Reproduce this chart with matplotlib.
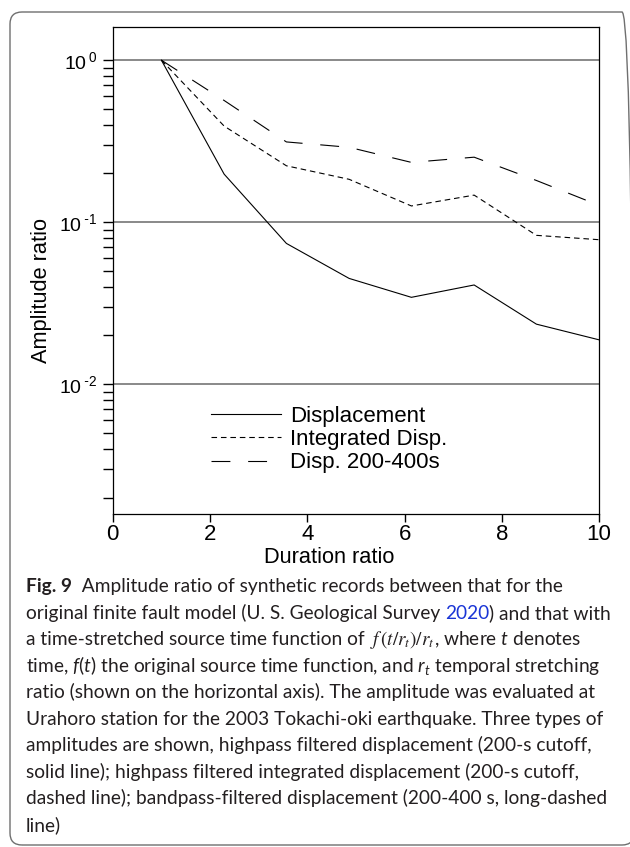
import numpy as np
import matplotlib
matplotlib.use("Agg")
import matplotlib.pyplot as plt
from matplotlib.patches import FancyBboxPatch
from matplotlib.transforms import IdentityTransform
from matplotlib.ticker import FixedLocator, FixedFormatter, LogLocator, NullFormatter

# Values
duration = [1, 2.29, 3.57, 4.86, 6.14, 7.43, 8.71, 10]
displacement = [1, 0.198, 0.074, 0.045, 0.0344, 0.041, 0.0235, 0.0188]
integrated = [1, 0.392, 0.223, 0.184, 0.126, 0.147, 0.083, 0.078]
band_200_400 = [1, 0.564, 0.313, 0.29, 0.234, 0.252, 0.181, 0.127]
series_labels = ["Displacement", "Integrated Disp.", "Disp. 200-400s"]
xticks = [0, 2, 4, 6, 8, 10]
yticks = [1e-2, 1e-1, 1]
ytick_labels = [r"$\mathdefault{10^{\;\text{-}2}}$", r"$\mathdefault{10^{\;\text{-}1}}$",
                r"$\mathdefault{10^{\;0}}$"]

plt.rcParams["font.family"] = ["Liberation Sans", "DejaVu Sans"]
plt.rcParams["mathtext.fontset"] = "custom"
plt.rcParams["mathtext.rm"] = "Lato"
plt.rcParams["mathtext.it"] = "Lato:italic"
plt.rcParams["mathtext.bf"] = "Lato:bold"

fig = plt.figure(figsize=(6.3, 8.47), dpi=100)
ax = fig.add_axes([0.179, 0.393, 0.772, 0.575])

ax.plot(duration, displacement, color="black", lw=0.8, label=series_labels[0])
ax.plot(duration, integrated, color="black", lw=0.8, dashes=(5, 3.5), label=series_labels[1])
ax.plot(duration, band_200_400, color="black", lw=0.8, dashes=(17, 16), label=series_labels[2])

ax.set_yscale("log")
ax.set_xlim(0, 10)
ax.set_ylim(0.00158, 1.6)
ax.xaxis.set_major_locator(FixedLocator(xticks))
ax.yaxis.set_major_locator(FixedLocator(yticks))
ax.yaxis.set_major_formatter(FixedFormatter(ytick_labels))
ax.yaxis.set_minor_locator(LogLocator(base=10, subs=np.arange(2, 10)))
ax.yaxis.set_minor_formatter(NullFormatter())

ax.yaxis.grid(True, which="major", color="#808080", lw=1.3)
ax.set_axisbelow(True)
for sp in ax.spines.values():
    sp.set_linewidth(0.9)

ax.tick_params(axis="y", which="both", direction="out", length=7, width=1.0,
               right=False, labelsize=14, pad=4)
ax.tick_params(axis="x", direction="out", length=6, width=1.0, top=False,
               labelsize=16, pad=1)

ax.set_xlabel("Duration ratio", fontsize=15.7)
ax.set_ylabel("Amplitude ratio", fontsize=15.7)
ax.xaxis.set_label_coords(0.444, -0.068)
ax.yaxis.set_label_coords(-0.125, 0.46)

ax.legend(loc="upper left", bbox_to_anchor=(0.202, 0.222), frameon=False,
          fontsize=16, handlelength=3.15, handletextpad=0.4,
          labelspacing=0.1, borderpad=0, borderaxespad=0)

# caption below the chart
cap_font = "Lato"
cap_size = 13.8
cap_x = 26 / 630
baselines = [592, 619, 645, 672, 698, 725, 751, 778, 804, 831]
link_blue = "#1a35d6"

caption = [
    [("Fig. 9", {"weight": "bold"}), ("  Amplitude ratio of synthetic records between that for the", {})],
    [("original finite fault model (U. S. Geological Survey ", {}), ("2020", {"color": link_blue}),
     (") and that with", {})],
    [("a time-stretched source time function of ", {}),
     (r"$f\,(t/r_t)/r_t$", {"math_fontfamily": "stix"}), (r", where $t$ denotes", {})],
    [(r"time, $f(t)$ the original source time function, and $r_t$ temporal stretching", {})],
    [("ratio (shown on the horizontal axis). The amplitude was evaluated at", {})],
    [("Urahoro station for the 2003 Tokachi-oki earthquake. Three types of", {})],
    [("amplitudes are shown, highpass filtered displacement (200-s cutoff,", {})],
    [("solid line); highpass filtered integrated displacement (200-s cutoff,", {})],
    [("dashed line); bandpass-filtered displacement (200-400 s, long-dashed", {})],
    [("line)", {})],
]

for base, pieces in zip(baselines, caption):
    y = 1 - base / 847
    prev = None
    for text, kw in pieces:
        style = {"family": cap_font, "fontsize": cap_size, "color": "#231f20", "va": "baseline", "ha": "left"}
        style.update(kw)
        if prev is None:
            prev = ax.annotate(text, xy=(cap_x, y), xycoords="figure fraction",
                               annotation_clip=False, **style)
        else:
            prev = ax.annotate(text, xy=(1, y), xycoords=(prev, "figure fraction"),
                               annotation_clip=False, **style)

# rounded frame around the figure, open to the right edge
frame = FancyBboxPatch((10, 2), 624, 833, boxstyle="round,pad=0,rounding_size=12",
                       transform=IdentityTransform(), fill=False, edgecolor="#6f6f6f", lw=1.0)
fig.add_artist(frame)

fig.savefig("out.png", dpi=100)
